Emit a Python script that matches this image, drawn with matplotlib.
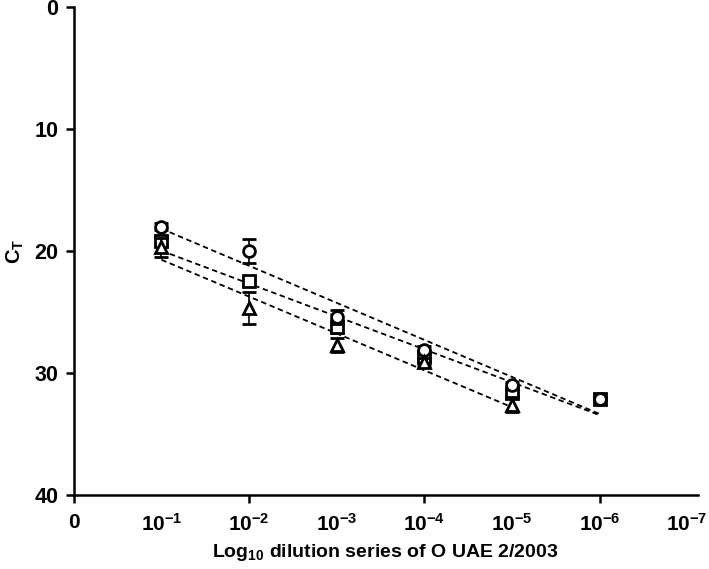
import numpy as np
import matplotlib
matplotlib.use("Agg")
import matplotlib.pyplot as plt

plt.rcParams["font.family"] = ["Liberation Sans", "DejaVu Sans"]
plt.rcParams["font.weight"] = "bold"
plt.rcParams["mathtext.fontset"] = "custom"
plt.rcParams["mathtext.rm"] = "Liberation Sans:bold"
plt.rcParams["mathtext.bf"] = "Liberation Sans:bold"
plt.rcParams["mathtext.default"] = "bf"

# dilution step (1 = 10^-1 ... 6 = 10^-6)
circle_x = [1, 2, 3, 4, 5, 6]
circle_ct = [18.0, 20.0, 25.4, 28.1, 31.0, 32.1]
circle_err = [0.3, 1.0, 0.6, 0.3, 0.3, 0.1]

square_x = [1, 2, 3, 4, 5, 6]
square_ct = [19.2, 22.5, 26.2, 28.7, 31.6, 32.1]
square_err = [0.4, 0.4, 0.5, 0.3, 0.3, 0.1]

triangle_x = [1, 2, 3, 4, 5]
triangle_ct = [19.7, 24.7, 27.7, 29.1, 32.6]
triangle_err = [0.8, 1.3, 0.6, 0.3, 0.6]

tick_pos = [0, 1, 2, 3, 4, 5, 6, 7]
tick_labels = ["0", r"$10^{-1}$", r"$10^{-2}$", r"$10^{-3}$",
               r"$10^{-4}$", r"$10^{-5}$", r"$10^{-6}$", r"$10^{-7}$"]
marked_ticks = [0, 2, 4, 6]

fig = plt.figure(figsize=(7.09, 5.69), dpi=100)
ax = fig.add_axes([0.104, 0.130, 0.880, 0.858])

# squares underneath, circles over them, triangles last
series = [
    (square_x, square_ct, square_err, "s", 8),
    (circle_x, circle_ct, circle_err, "o", 8.5),
    (triangle_x, triangle_ct, triangle_err, "^", 8.5),
]

for i, (xs, ys, errs, marker, ms) in enumerate(series):
    ax.errorbar(xs, ys, yerr=errs, fmt=marker, ms=ms, mfc="white", mec="black",
                mew=2, color="black", ecolor="black", elinewidth=1.2,
                capsize=5, capthick=1.2, zorder=3 + i)
    # linear regression line through each series
    slope, icpt = np.polyfit(xs, ys, 1)
    xl = np.array([min(xs), max(xs)])
    ax.plot(xl, slope * xl + icpt, ls=(0, (3, 2)), color="black", lw=1.3, zorder=2)

ax.set_xlim(0, 7.12)
ax.set_ylim(40, 0)
ax.set_yticks([0, 10, 20, 30, 40])

# labels on every step, tick marks only on even steps
ax.set_xticks(tick_pos)
ax.set_xticklabels(tick_labels)
ax.set_xticks(marked_ticks, minor=True)
ax.xaxis.remove_overlapping_locs = False
ax.tick_params(axis="x", which="major", length=0, pad=13, labelsize=15)
ax.tick_params(axis="x", which="minor", direction="out", length=6, width=1.8)
ax.tick_params(axis="y", which="major", direction="out", length=6, width=1.8,
               labelsize=15.5, pad=5)

for s in ["top", "right"]:
    ax.spines[s].set_visible(False)
for s in ["left", "bottom"]:
    ax.spines[s].set_linewidth(1.8)

ax.set_xlabel(r"Log$_{10}$ dilution series of O UAE 2/2003", fontsize=14,
              fontweight="bold", labelpad=5)
ax.set_ylabel(r"C$_{T}$", fontsize=14.5, fontweight="bold", labelpad=6)

fig.savefig("out.png", dpi=100, facecolor="white")
